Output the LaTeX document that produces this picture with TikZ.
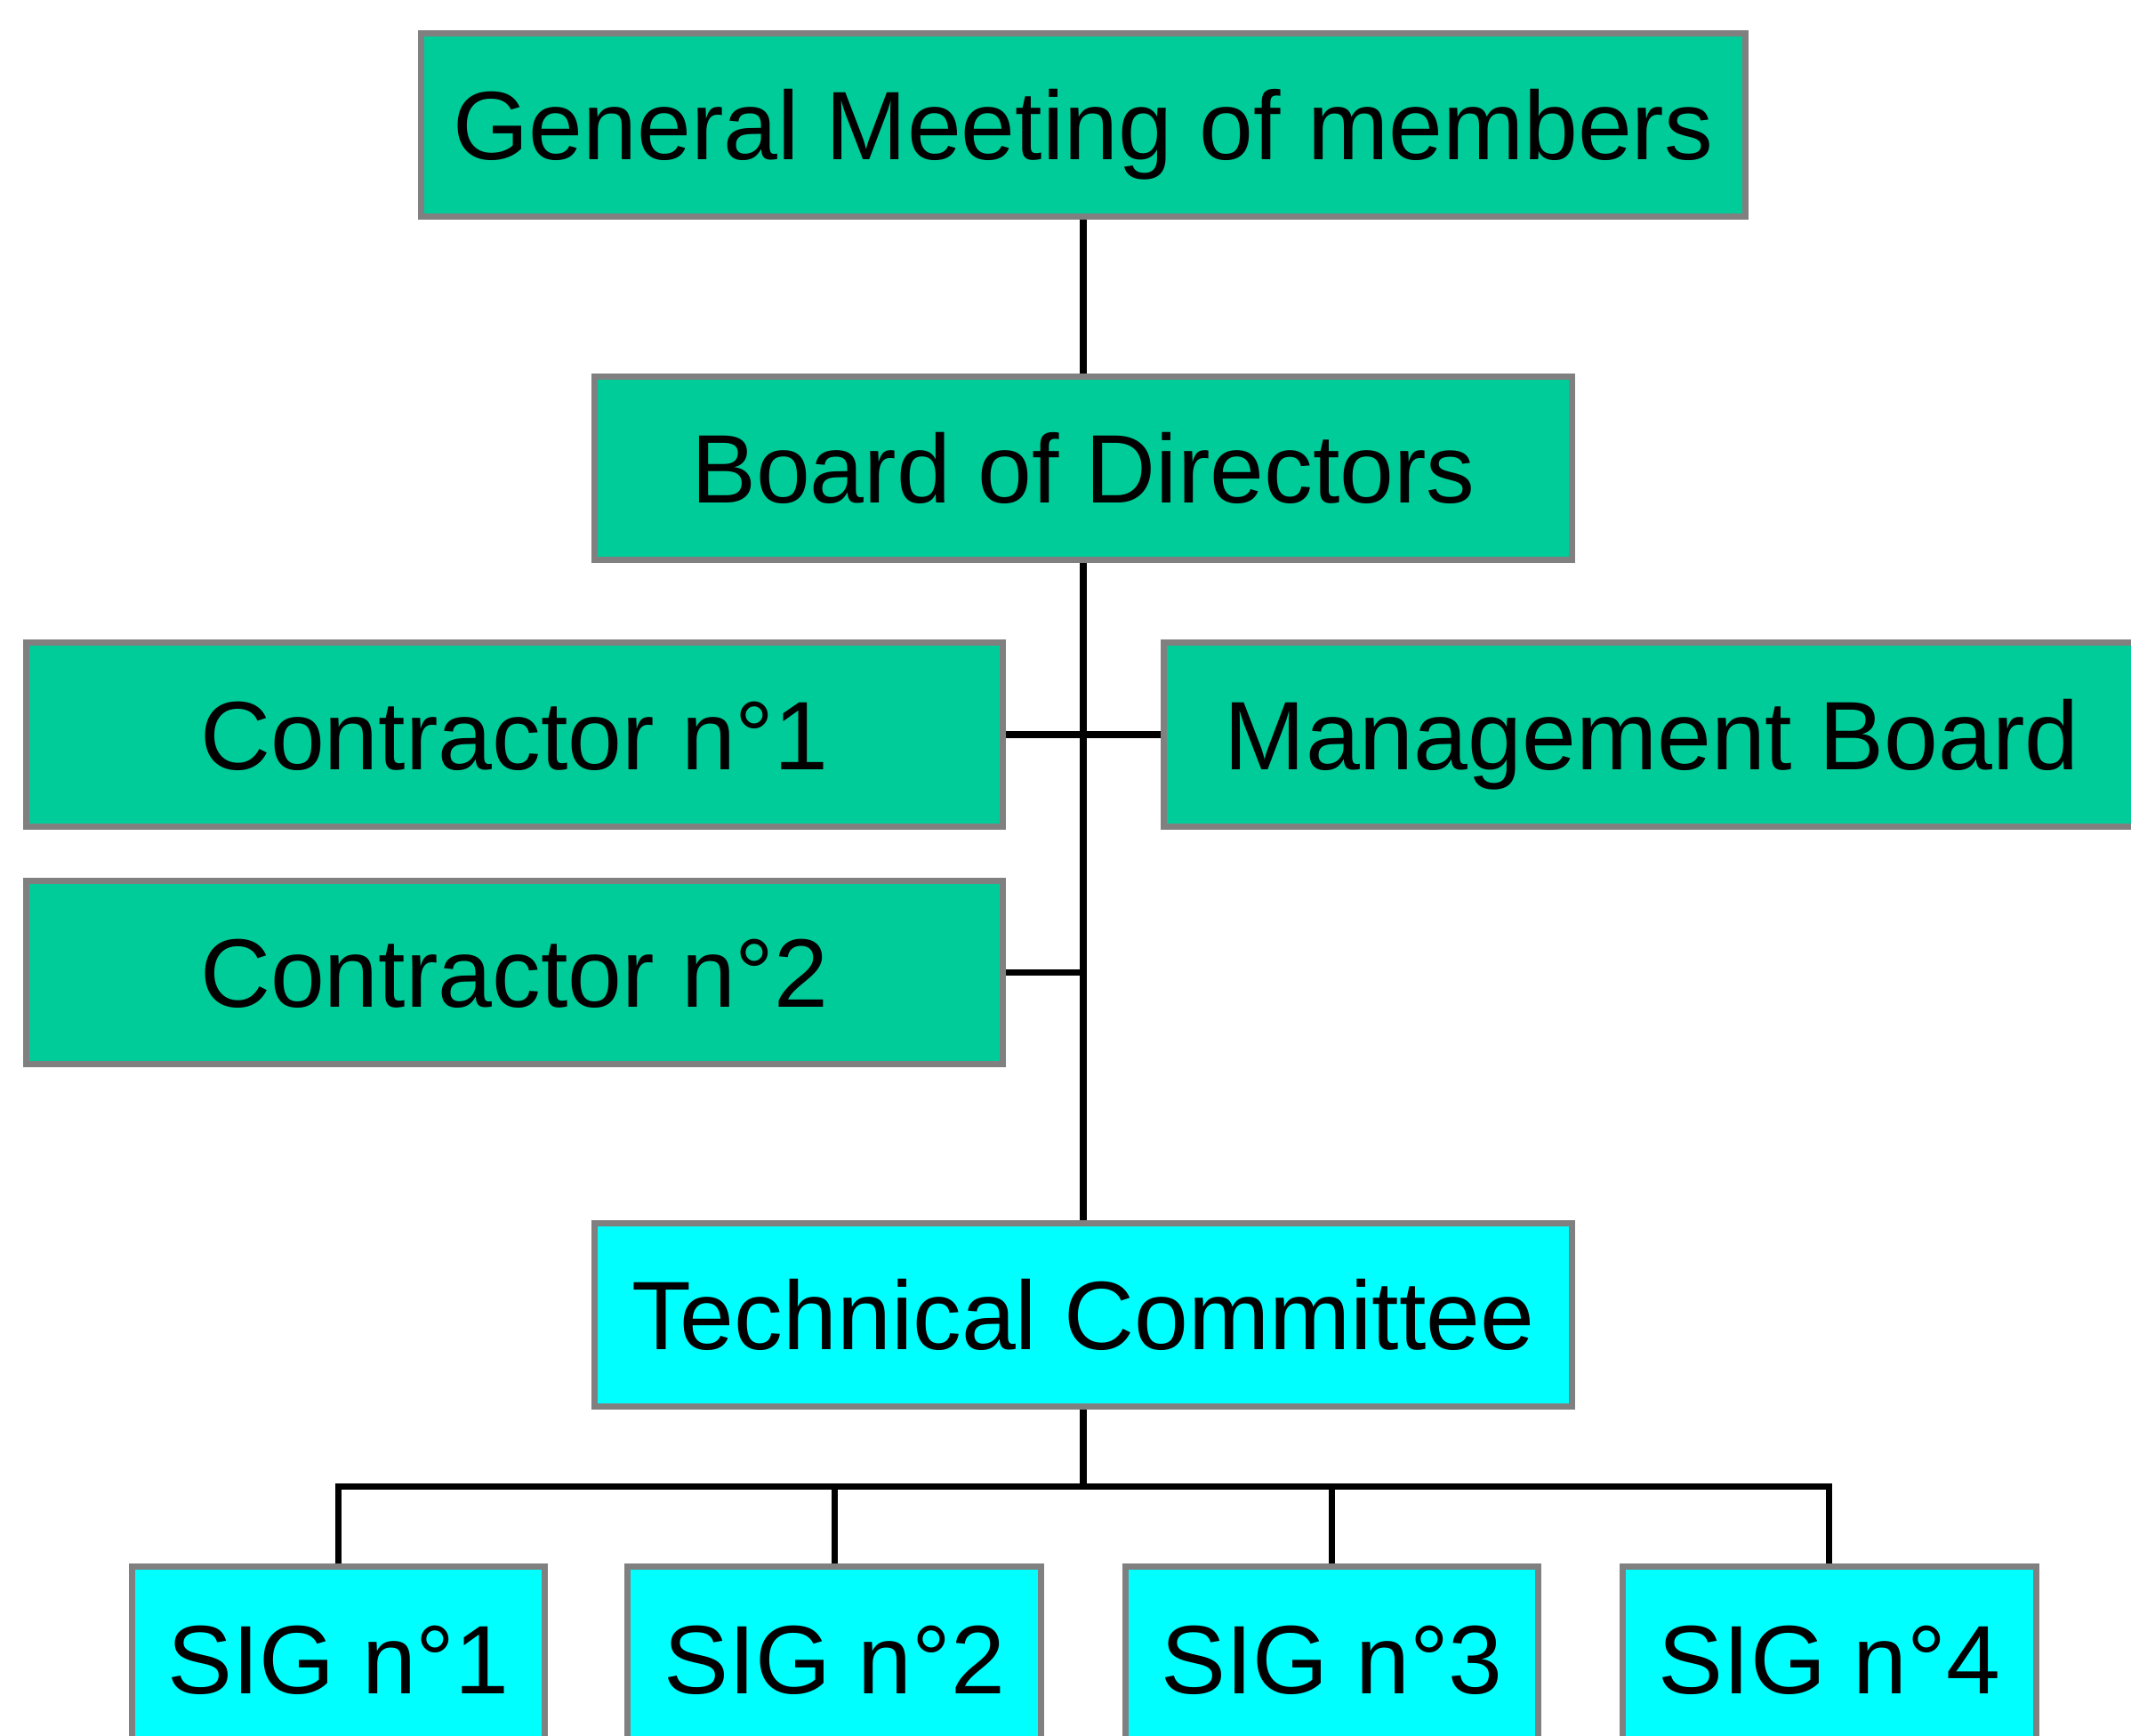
\documentclass[tikz,border=0pt]{standalone}
\usepackage{fontspec}
\setmainfont{Liberation Sans}
\definecolor{orggreen}{RGB}{0,204,153}
\definecolor{orgcyan}{RGB}{0,255,255}
\definecolor{orggray}{RGB}{128,128,128}
\tikzset{
	orgbox/.style={draw=orggray, line width=2.3pt, inner sep=0pt,
		minimum width=359.5pt, minimum height=67.5pt,
		font=\fontsize{35.8}{40}\selectfont, text height=25.6pt, text depth=0pt},
	board/.style={orgbox, fill=orggreen},
	tech/.style={orgbox, fill=orgcyan},
	sigbox/.style={tech, minimum width=152pt},
	link/.style={line width=2.4pt, black}
}
\begin{document}
\begin{tikzpicture}[x=.5pt,y=-.5pt]
			\useasboundingbox (0,0) rectangle (1568,1277);
			\node[board, minimum width=487pt] at (797,92) (gm) {General Meeting of members};
			\node[board] at (797,344.5) (bod) {Board of Directors};
			\node[board] at (378.5,540.5) (con1) {Contractor n°1};
			\node[board] at (1215.5,540.5) (mb) {Management Board};
			\node[board] at (378.5,715.5) (con2) {Contractor n°2};
			\node[tech] at (797,967.5) (tc) {Technical Committee};
			%
			\node[sigbox] at (249,1220.5) (sig1) {SIG n°1};
			\node[sigbox] at (614,1220.5) (sig2) {SIG n°2};
			\node[sigbox] at (980,1220.5) (sig3) {SIG n°3};
			\node[sigbox] at (1346,1220.5) (sig4) {SIG n°4};
			\coordinate (bus) at (797,1094);
			%
			\draw[link] (gm) -- (bod);
			\draw[link] (bod) -- (tc);
			\draw[link] (con1) -- (mb);
			\draw[link] (con2.east) -- (con2.east -| bod.south);
			\draw[link] (tc) -- (bus);
			\draw[link] (sig1.north) -- (sig1.north |- bus) -- (sig4.north |- bus) -- (sig4.north);
			\draw[link] (sig2.north) -- (sig2.north |- bus);
			\draw[link] (sig3.north) -- (sig3.north |- bus);
		\end{tikzpicture}
\end{document}
